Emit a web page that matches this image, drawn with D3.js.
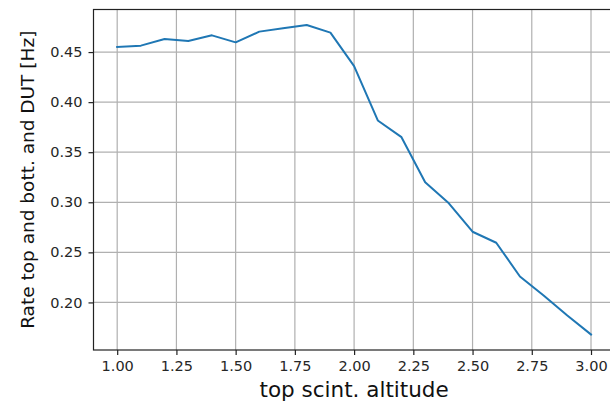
<!DOCTYPE html>
<html><head><meta charset="utf-8">
<script src="https://cdn.jsdelivr.net/npm/d3@7"></script>
<style>
html,body{margin:0;padding:0;background:#fff;overflow:hidden;}
svg{display:block;font-family:"DejaVu Sans",sans-serif;}
</style></head>
<body>
<svg id="c" width="610" height="405"></svg>
<script>
const altitudes = [1.0,1.1,1.2,1.3,1.4,1.5,1.6,1.7,1.8,1.9,2.0,2.1,2.2,2.3,2.4,2.5,2.6,2.7,2.8,2.9,3.0];
const rates = [0.455,0.4564,0.463,0.461,0.4667,0.4597,0.4704,0.4737,0.477,0.4694,0.436,0.3817,0.365,0.320,0.299,0.2706,0.2596,0.2259,0.207,0.187,0.168];
const xTicks = [1.00,1.25,1.50,1.75,2.00,2.25,2.50,2.75,3.00];
const yTicks = [0.20,0.25,0.30,0.35,0.40,0.45];
const xLabel = "top scint. altitude";
const yLabel = "Rate top and bott. and DUT [Hz]";

const svg = d3.select("#c");
const L = 93.5, R = 614.7, T = 9.5, B = 350;
const x = d3.scaleLinear().domain([0.9,3.1]).range([L,R]);
const y = d3.scaleLinear().domain([0.1525,0.4925]).range([B,T]);

// grid
const g = svg.append("g");
g.selectAll(".gx").data(xTicks).join("line")
 .attr("x1",d=>x(d)).attr("x2",d=>x(d)).attr("y1",T).attr("y2",B)
 .attr("stroke","#b0b0b0").attr("stroke-width",1.2);
g.selectAll(".gy").data(yTicks).join("line")
 .attr("y1",d=>y(d)).attr("y2",d=>y(d)).attr("x1",L).attr("x2",R)
 .attr("stroke","#b0b0b0").attr("stroke-width",1.2);

// line
svg.append("path").datum(altitudes.map((a,i)=>[a,rates[i]]))
 .attr("fill","none").attr("stroke","#1f77b4").attr("stroke-width",2)
 .attr("stroke-linejoin","round").attr("stroke-linecap","square")
 .attr("d",d3.line().x(d=>x(d[0])).y(d=>y(d[1])));

// spines
svg.append("rect").attr("x",L).attr("y",T).attr("width",R-L).attr("height",B-T)
 .attr("fill","none").attr("stroke","#222").attr("stroke-width",1.2);

// axes
const xAxis = d3.axisBottom(x).tickValues(xTicks).tickFormat(d3.format(".2f")).tickSize(5).tickPadding(6);
const xa = svg.append("g").attr("transform",`translate(0,${B})`).call(xAxis);
const yAxis = d3.axisLeft(y).tickValues(yTicks).tickFormat(d3.format(".2f")).tickSize(5).tickPadding(6);
const ya = svg.append("g").attr("transform",`translate(${L},0)`).call(yAxis);
[xa,ya].forEach(a=>{
  a.select(".domain").remove();
  a.selectAll(".tick line").attr("stroke","#222").attr("stroke-width",1.2);
  a.selectAll(".tick text").attr("fill","#262626").style("font-size","14.5px").style("font-family","DejaVu Sans");
});

svg.append("text").attr("x",(L+R)/2).attr("y",397).attr("text-anchor","middle")
 .style("font-size","21.5px").attr("fill","#111").text(xLabel);
svg.append("text").attr("transform",`translate(34,${(T+B)/2}) rotate(-90)`).attr("text-anchor","middle")
 .style("font-size","18.5px").attr("fill","#111").text(yLabel);
</script>
</body></html>
